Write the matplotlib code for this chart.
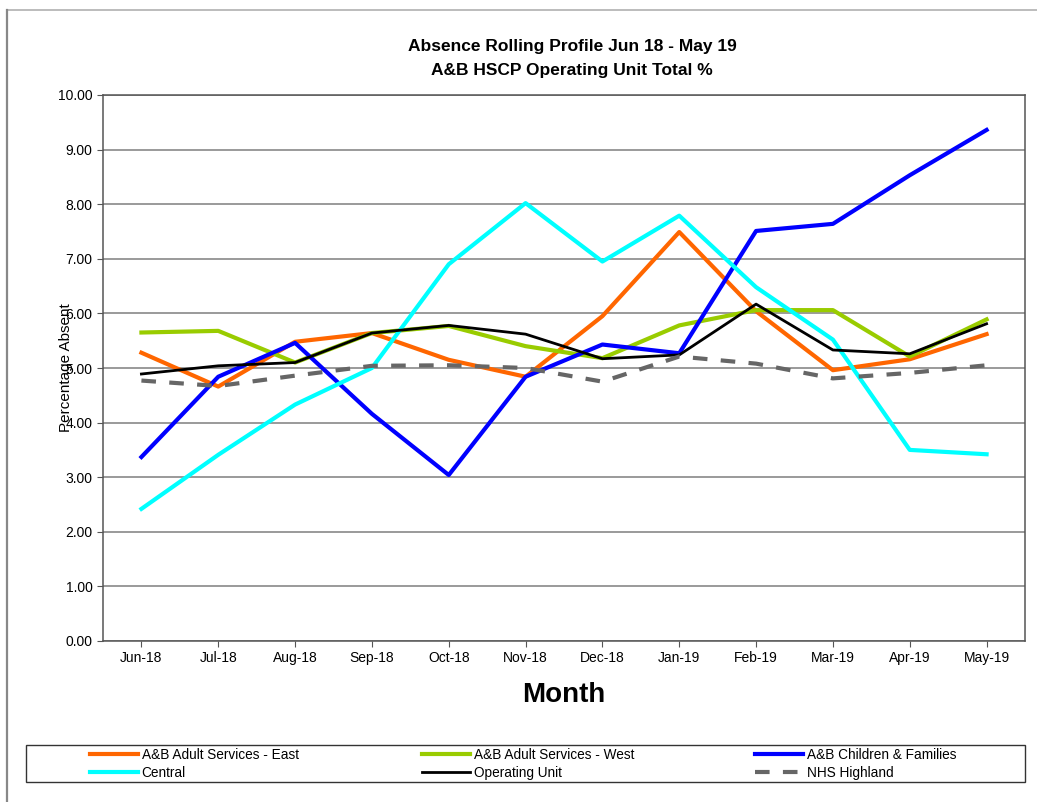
import matplotlib.pyplot as plt
from matplotlib.lines import Line2D
from matplotlib.patches import Rectangle

# Datos
meses = ['Jun-18', 'Jul-18', 'Aug-18', 'Sep-18', 'Oct-18', 'Nov-18',
         'Dec-18', 'Jan-19', 'Feb-19', 'Mar-19', 'Apr-19', 'May-19']
east = [5.28, 4.66, 5.48, 5.64, 5.15, 4.84, 5.95, 7.49, 6.04, 4.96, 5.16, 5.62]
west = [5.65, 5.68, 5.10, 5.64, 5.77, 5.40, 5.18, 5.78, 6.06, 6.06, 5.21, 5.89]
children = [3.37, 4.84, 5.46, 4.16, 3.04, 4.84, 5.43, 5.27, 7.51, 7.64, 8.53, 9.36]
central = [2.42, 3.41, 4.33, 5.00, 6.90, 8.02, 6.95, 7.79, 6.48, 5.52, 3.50, 3.42]
operating_unit = [4.89, 5.04, 5.10, 5.64, 5.78, 5.62, 5.17, 5.24, 6.17, 5.33, 5.26, 5.81]
nhs_highland = [4.77, 4.67, 4.86, 5.04, 5.05, 5.00, 4.75, 5.21, 5.08, 4.81, 4.91, 5.05]

plt.rcParams['font.family'] = ['Liberation Sans', 'DejaVu Sans']

W, H = 1037, 802
fig = plt.figure(figsize=(W / 100, H / 100), dpi=100)
ax = fig.add_axes([103 / W, 1 - 641 / H, 922 / W, 546 / H])

x = range(len(meses))
l_east, = ax.plot(x, east, color='#FF6600', linewidth=3, label='A&B Adult Services - East')
l_west, = ax.plot(x, west, color='#99CC00', linewidth=3, label='A&B Adult Services - West')
l_child, = ax.plot(x, children, color='#0000FF', linewidth=3, label='A&B Children & Families')
l_cent, = ax.plot(x, central, color='#00FFFF', linewidth=3, label='Central')
l_op, = ax.plot(x, operating_unit, color='black', linewidth=2, label='Operating Unit')
l_nhs, = ax.plot(x, nhs_highland, color='#666666', linewidth=3, linestyle=(0, (3.5, 3.2)),
                 label='NHS Highland')

ax.set_xlim(-0.5, len(meses) - 0.5)
ax.set_ylim(0, 10)
ax.set_yticks([i for i in range(11)])
ax.set_yticklabels([f"{i:.2f}" for i in range(11)], fontsize=10)
ax.set_xticks(list(x))
ax.set_xticklabels(meses, fontsize=10)
ax.tick_params(axis='x', length=4, color='#555555')
ax.tick_params(axis='y', length=4, color='#555555')
ax.yaxis.grid(True, color='#7f7f7f', linewidth=1.1)
ax.set_axisbelow(True)
for s in ax.spines.values():
    s.set_color('#555555')
    s.set_linewidth(1.1)

ax.set_xlabel('Month', fontsize=20, fontweight='bold', labelpad=12)
# en el original la etiqueta se monta sobre los números del eje
ax.set_ylabel('Percentage Absent', fontsize=11)
ax.yaxis.set_label_coords(-0.033, 0.5)

fig.text(572 / W, 1 - 47 / H, 'Absence Rolling Profile Jun 18 - May 19', ha='center', va='center',
         fontsize=12.5, fontweight='bold')
fig.text(572 / W, 1 - 70 / H, 'A&B HSCP Operating Unit Total %', ha='center', va='center',
         fontsize=12.5, fontweight='bold')

# Leyenda: tres columnas colocadas a mano, con su marco
fig.add_artist(Rectangle((26 / W, 1 - 782 / H), 999 / W, 37 / H, transform=fig.transFigure,
                         fill=False, edgecolor='#333333', linewidth=1))
columnas = [([l_east, l_cent], 90), ([l_west, l_op], 422), ([l_child, l_nhs], 755)]
for hs, x0 in columnas:
    fig.legend(handles=hs, labels=[h.get_label() for h in hs], loc='upper left',
               bbox_to_anchor=(x0 / W, 1 - 748 / H), frameon=False, fontsize=9.8,
               handlelength=3.5, handletextpad=0.3, borderpad=0, borderaxespad=0,
               labelspacing=0.28)

# Borde exterior del área del gráfico
fig.add_artist(Line2D([7 / W, 1], [1 - 10 / H, 1 - 10 / H], color='#b0b0b0', linewidth=1.2))
fig.add_artist(Line2D([7 / W, 7 / W], [0, 1 - 10 / H], color='#888888', linewidth=1.6))

fig.savefig('out.png', dpi=100)
